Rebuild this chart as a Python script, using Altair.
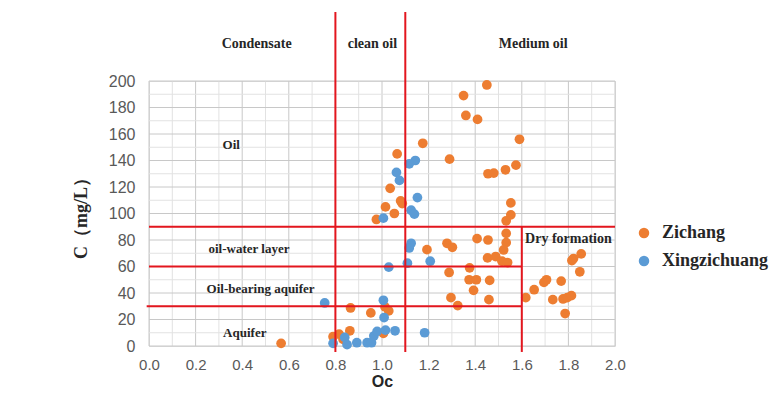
import altair as alt
import pandas as pd

# ---- data ----
zichang_x = [1.45, 1.35, 1.36, 1.41, 1.175, 1.59, 1.29, 1.065, 1.455, 1.48, 1.53, 1.575,
             1.035, 1.08, 1.087, 1.015, 1.053, 0.976, 1.553, 1.553, 1.533, 1.533, 1.533, 1.522,
             1.279, 1.302, 1.408, 1.455, 1.193, 1.453, 1.488, 1.515, 1.539, 1.376, 1.288, 1.374,
             1.405, 1.462, 1.393, 1.296, 1.325, 1.459, 1.617, 1.653, 1.695, 1.706, 1.769, 1.733,
             1.777, 1.795, 1.813, 1.786, 1.822, 1.815, 1.855, 1.849, 0.865, 0.952, 1.013, 1.029,
             0.862, 0.816, 0.79, 0.833, 0.567, 1.006]
zichang_y = [197, 189, 174, 171, 153, 156, 141, 145, 130, 130.5, 133, 136.5,
             119, 109.5, 107.5, 105, 100, 95.5, 108, 99, 94.5, 85, 78, 72.5,
             77.5, 74.5, 81, 80, 72.7, 66.5, 67.5, 64, 63, 59, 55.5, 50,
             50, 49.5, 42, 36.5, 30.5, 35, 36.5, 42.5, 48, 50, 49, 35,
             35.5, 36.5, 38, 24.5, 66, 64.5, 69.5, 56, 28.7, 25, 29.5, 26.5,
             11.5, 9, 7, 5, 2, 9.5]

xing_x = [1.143, 1.117, 1.062, 1.075, 1.152, 1.125, 1.139, 1.006, 1.125, 1.117, 1.207,
          1.029, 1.109, 0.754, 1.006, 1.009, 0.79, 0.84, 0.85, 0.892, 0.936, 0.955,
          0.965, 0.979, 1.015, 1.056, 1.183]
xing_y = [140, 137.5, 131, 125, 112, 102.5, 99.5, 96.5, 77.5, 74, 64,
          59.5, 62.5, 32.5, 34.5, 21.5, 2, 6.5, 1, 2.5, 2.5, 2.5,
          7.5, 11, 12, 11.5, 10]

series_names = ["Zichang", "Xingzichuang"]
series_colors = ["#ED7D31", "#5B9BD5"]

# threshold lines (data units)
line_x = [0.8, 1.1, 0.0, 0.0, -0.01, 1.6]
line_x2 = [0.8, 1.1, 2.0, 1.6, 1.6, 1.6]
line_y = [252, 252, 90, 60, 30, 90]
line_y2 = [-4.5, -4.5, 90, 60, 30, -4.5]

# region labels
label_text = ["Condensate", "clean oil", "Medium oil", "Oil", "oil-water layer",
              "Oil-bearing aquifer", "Aquifer", "Dry formation"]
label_x = [0.462, 0.959, 1.649, 0.353, 0.429, 0.479, 0.411, 1.80]
label_y = [228, 228, 228, 151.7, 73.2, 43.3, 10, 80.5]
label_size = [14, 14, 14, 13, 13, 13, 13, 14]

x_ticks = [round(i * 0.1, 1) for i in range(21)]
y_ticks = [i * 10 for i in range(21)]
x_major = [round(i * 0.2, 1) for i in range(11)]
y_major = [i * 20 for i in range(11)]

# ---- tables ----
pts = pd.DataFrame({
    "Oc": zichang_x + xing_x,
    "C": zichang_y + xing_y,
    "series": ["Zichang"] * len(zichang_x) + ["Xingzichuang"] * len(xing_x),
})
lines = pd.DataFrame({"x": line_x, "x2": line_x2, "y": line_y, "y2": line_y2})
labels = pd.DataFrame({"t": label_text, "x": label_x, "y": label_y, "s": label_size})

vgrid = pd.DataFrame({"x": x_ticks, "y": 0, "y2": 200,
                      "major": [v in x_major for v in x_ticks]})
hgrid = pd.DataFrame({"y": y_ticks, "x": 0.0, "x2": 2.0,
                      "major": [v in y_major for v in y_ticks]})

xscale = alt.Scale(domain=[0, 2], nice=False, zero=False)
yscale = alt.Scale(domain=[0, 200], nice=False, zero=False)

xaxis = alt.Axis(
    values=x_major, format=".1f", title="Oc", domain=False, ticks=False, tickSize=0,
    grid=False, labelFlush=False, labelOverlap=False,
    labelFont="Liberation Sans", labelFontSize=15, labelColor="#595959", labelPadding=11,
    titleFont="Liberation Sans", titleFontSize=16, titleFontWeight="bold", titleColor="#262626",
    titlePadding=1,
)
yaxis = alt.Axis(
    values=y_major, format="d", title="C（mg/L）", domain=False, ticks=False, tickSize=0,
    grid=False, labelFlush=False, labelOverlap=False,
    labelFont="Liberation Sans", labelFontSize=16, labelColor="#595959", labelPadding=14,
    titleFont="Liberation Serif", titleFontSize=18, titleFontWeight="bold", titleColor="#262626",
    titlePadding=18,
)

grid_color = alt.condition("datum.major", alt.value("#c8c8c8"), alt.value("#e2e2e2"))

vlines = alt.Chart(vgrid).mark_rule(strokeWidth=1).encode(
    x=alt.X("x:Q", scale=xscale, axis=xaxis),
    y=alt.Y("y:Q", scale=yscale, axis=yaxis), y2="y2:Q",
    color=grid_color,
)
hlines = alt.Chart(hgrid).mark_rule(strokeWidth=1).encode(
    y=alt.Y("y:Q", scale=yscale, axis=yaxis), x=alt.X("x:Q", scale=xscale, axis=xaxis), x2="x2:Q",
    color=grid_color,
)

points = alt.Chart(pts).mark_circle(size=95, opacity=1).encode(
    x=alt.X("Oc:Q", scale=xscale, axis=xaxis),
    y=alt.Y("C:Q", scale=yscale, axis=yaxis),
    color=alt.Color("series:N",
                    scale=alt.Scale(domain=series_names, range=series_colors),
                    sort=series_names,
                    legend=alt.Legend(
                        title=None, orient="none", legendX=486, legendY=143,
                        symbolType="circle", symbolSize=110, symbolStrokeWidth=0,
                        labelFont="Liberation Serif", labelFontSize=18, labelFontWeight="bold",
                        labelColor="#262626", labelOffset=9, rowPadding=10, padding=0,
                    )),
)

rules = alt.Chart(lines).mark_rule(color="#E3161E", strokeWidth=2).encode(
    x=alt.X("x:Q", scale=xscale, axis=xaxis), x2="x2:Q",
    y=alt.Y("y:Q", scale=yscale, axis=yaxis), y2="y2:Q",
)

texts = alt.Chart(labels).mark_text(
    font="Liberation Serif", fontWeight="bold", color="#262626",
    align="center", baseline="middle",
).encode(
    x=alt.X("x:Q", scale=xscale, axis=xaxis), y=alt.Y("y:Q", scale=yscale, axis=yaxis),
    text="t:N", size=alt.Size("s:Q", scale=None, legend=None),
)

chart = alt.layer(vlines, hlines, points, rules, texts).resolve_scale(
    color="independent"
).properties(
    width=466, height=265,
    autosize=alt.AutoSizeParams(type="none"),
    padding={"left": 141, "top": 73, "right": 155, "bottom": 50},
).configure_view(stroke=None).configure(background="white")

chart.save("out.html", embed_options={"renderer": "svg", "actions": False})
